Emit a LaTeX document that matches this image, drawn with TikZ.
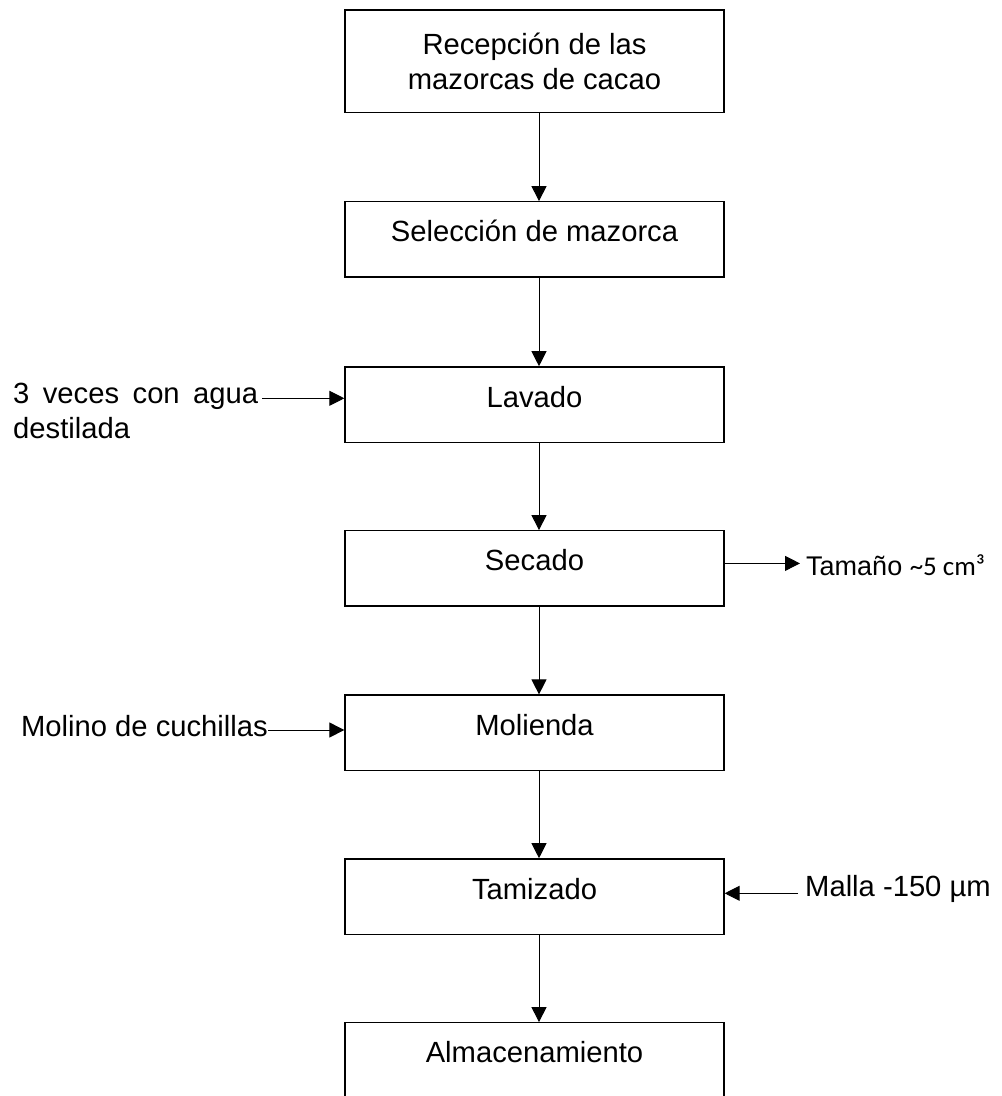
\documentclass[tikz,border=0pt]{standalone}
\usepackage{fontspec}
\setmainfont{Liberation Sans}
\newfontfamily\calibri{Carlito}
\usetikzlibrary{arrows.meta}
\tikzset{
  paso/.style={draw, line width=1.3pt, minimum width=379pt, minimum height=75.3pt,
    inner sep=0pt, text height=21pt, text depth=16pt, align=center},
  flecha/.style={line width=1pt, -{Triangle[length=15pt,width=15pt]}},
  nota/.style={inner sep=0pt}
}
\begin{document}
\begin{tikzpicture}[x=1pt,y=-1pt,font=\fontsize{29.2}{35}\selectfont]
\useasboundingbox (0,0) rectangle (1002,1096);
\node[paso, minimum height=102.7pt, text height=56pt, text depth=0pt] (rec) at (534.5,61.4) {Recepción de las\\mazorcas de cacao};
\node[paso] (sel) at (534.5,239.4) {Selección de mazorca};
\node[paso] (lav) at (534.5,404.5) {Lavado};
\node[paso] (sec) at (534.5,568.4) {Secado};
\node[paso] (mol) at (534.5,732.7) {Molienda};
\node[paso] (tam) at (534.5,896.5) {Tamizado};
\node[paso] (alm) at (534.5,1060.4) {Almacenamiento};
\foreach \a/\b in {rec/sel,sel/lav,lav/sec,sec/mol,mol/tam,tam/alm}
  \draw[flecha] ([xshift=4.5pt]\a.south) -- ([xshift=4.5pt]\b.north);
\node[nota, anchor=base west, align=left] (lavin) at (13,438.5) {\makebox[245pt][s]{3 veces con agua}\\destilada};
\coordinate (lavpt) at ([yshift=6.2pt]lav.west);
\draw[flecha] ([xshift=4pt]lavin.east |- lavpt) -- (lavpt);
\node[nota, anchor=base west, font=\fontsize{27}{32}\selectfont] (tamout) at (806,575) {Tamaño {\calibri\fontsize{27}{32}\selectfont\textasciitilde5 cm³}};
\coordinate (secpt) at ([yshift=5pt]sec.east);
\draw[flecha] (secpt) -- ([xshift=-6pt]tamout.west |- secpt);
\node[nota, anchor=base east] (molin) at (268,736.7) {Molino de cuchillas};
\coordinate (molpt) at ([yshift=2.7pt]mol.west);
\draw[flecha] (molin.east |- molpt) -- (molpt);
\node[nota, anchor=base west] (malla) at (805,896) {Malla -150 µm};
\coordinate (tampt) at ([yshift=3.2pt]tam.east);
\draw[flecha] ([xshift=-7pt]malla.west |- tampt) -- (tampt);
\end{tikzpicture}
\end{document}
